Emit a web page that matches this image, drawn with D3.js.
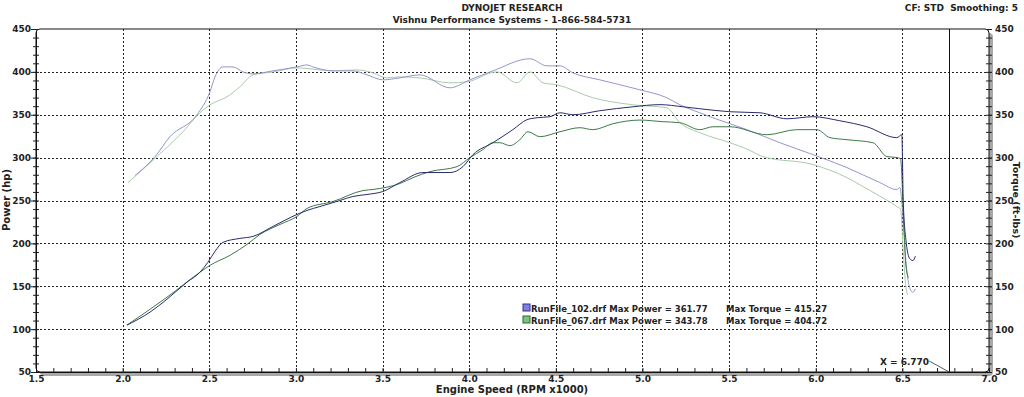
<!DOCTYPE html>
<meta charset="utf-8">
<script src="https://d3js.org/d3.v7.min.js"></script>
<style>
  body { margin: 0; background: #fff; }
  text { font-family: "DejaVu Sans", Verdana, sans-serif; font-weight: bold; fill: #222; }
</style>
<div id="chart"></div>
<script>
// run 102 (blue) : rpm x1000 / value
const rpm102Power = [2.025, 2.158, 2.256, 2.371, 2.446, 2.492, 2.533, 2.579, 2.677, 2.752, 2.868, 3.006, 3.064, 3.139, 3.254, 3.329, 3.41, 3.502, 3.6, 3.733, 3.889, 3.964, 4.022, 4.137, 4.252, 4.333, 4.391, 4.466, 4.524, 4.599, 4.754, 4.945, 5.101, 5.233, 5.331, 5.505, 5.678, 5.834, 5.984, 6.139, 6.295, 6.468, 6.497, 6.505, 6.52, 6.543, 6.561, 6.575];
const power102    = [104.7, 119.8, 134.9, 154.7, 166.3, 177.9, 190.7, 201.2, 205.8, 208.1, 219.8, 233.7, 238.4, 243, 250, 254.7, 257, 260.5, 270.9, 282.6, 282.6, 289.5, 303.5, 317.4, 332.6, 344.2, 346.5, 347.7, 352.3, 350, 354.7, 359.3, 361.8, 359.3, 357, 353.5, 352.3, 345.3, 347.7, 343, 336, 323.3, 326.7, 250, 205, 182, 180, 185];
const rpm102Torque = [2.071, 2.187, 2.273, 2.429, 2.504, 2.533, 2.579, 2.637, 2.694, 2.752, 2.868, 3.006, 3.064, 3.098, 3.214, 3.329, 3.41, 3.502, 3.6, 3.716, 3.889, 4.004, 4.137, 4.351, 4.449, 4.524, 4.599, 4.754, 4.985, 5.141, 5.216, 5.331, 5.406, 5.603, 5.793, 5.984, 6.18, 6.37, 6.468, 6.486, 6.5, 6.52, 6.54, 6.56, 6.575];
const torque102    = [279.1, 301.2, 324.4, 350, 376.7, 394.2, 405.8, 405.8, 400, 397.7, 401.2, 405.8, 408.1, 405.8, 401.2, 401.2, 396.5, 390.7, 393, 396.5, 381.4, 390.7, 401.2, 415.3, 407, 407, 398.8, 390.7, 379.1, 369.8, 361.6, 352.3, 346.5, 332.6, 317.4, 303.5, 288.4, 270.9, 262.8, 265.1, 240, 180, 150, 143, 147];

// run 067 (green)
const rpm067Power = [2.025, 2.256, 2.446, 2.504, 2.619, 2.718, 2.793, 2.908, 3.006, 3.064, 3.214, 3.387, 3.45, 3.6, 3.676, 3.774, 3.93, 4.004, 4.079, 4.137, 4.177, 4.235, 4.293, 4.339, 4.408, 4.524, 4.639, 4.714, 4.829, 4.985, 5.118, 5.216, 5.331, 5.406, 5.505, 5.718, 5.891, 6.007, 6.082, 6.18, 6.33, 6.411, 6.474, 6.49, 6.505, 6.52, 6.535];
const power067    = [104.7, 137.2, 166.3, 174.4, 186, 198.8, 210.5, 222.1, 231.4, 240.7, 248.8, 261.6, 263, 269.8, 276.7, 283.7, 289.5, 300, 309.3, 317.4, 317.4, 314, 321, 330.2, 324.4, 330.2, 334.9, 332.6, 339.5, 343.8, 341.9, 340.7, 332.6, 336, 336, 326.7, 332.6, 332.6, 323.3, 320.9, 317.4, 301.2, 300, 298, 240, 175, 160];
const rpm067Torque = [2.031, 2.198, 2.348, 2.446, 2.504, 2.602, 2.677, 2.752, 2.868, 3.006, 3.214, 3.352, 3.445, 3.525, 3.6, 3.716, 3.889, 3.987, 4.16, 4.276, 4.351, 4.426, 4.506, 4.714, 4.945, 5.141, 5.216, 5.331, 5.505, 5.603, 5.695, 5.984, 6.18, 6.272, 6.468, 6.49, 6.505, 6.52, 6.53];
const torque067    = [270.9, 301.2, 330.2, 352.3, 361.6, 370.9, 382.6, 396.5, 399.9, 404.7, 401.2, 402.3, 398.8, 393, 394.2, 393, 387.2, 388.4, 400, 387.2, 399.9, 387.2, 384.9, 369.8, 361.6, 358.1, 340.7, 329.1, 317.4, 310, 301.2, 291.9, 276.7, 266.3, 243, 240, 190, 150, 140];

const xMajor = [1.5, 2.0, 2.5, 3.0, 3.5, 4.0, 4.5, 5.0, 5.5, 6.0, 6.5, 7.0];
const yMajor = [50, 100, 150, 200, 250, 300, 350, 400, 450];
const runFiles = ["RunFile_102.drf", "RunFile_067.drf"];
const maxPower = ["361.77", "343.78"];
const maxTorque = ["415.27", "404.72"];
const cursorX = 6.77;

const W = 1024, H = 397;
const pL = 36, pR = 989, pT = 29, pB = 372;

const svg = d3.select("#chart").append("svg")
  .attr("width", W).attr("height", H);

const x = d3.scaleLinear().domain([1.5, 7.0]).range([pL, pR]);
const y = d3.scaleLinear().domain([50, 450]).range([pB, pT]);

// frame with shadow
svg.append("rect")
  .attr("x", pL + 4).attr("y", pT + 4)
  .attr("width", pR - pL).attr("height", pB - pT)
  .attr("rx", 4).attr("fill", "#a8a8a8");
svg.append("rect")
  .attr("x", pL).attr("y", pT)
  .attr("width", pR - pL).attr("height", pB - pT)
  .attr("rx", 4).attr("fill", "#fff").attr("stroke", "#111").attr("stroke-width", 1);

// dotted grid
const grid = svg.append("g").attr("stroke", "#222").attr("stroke-dasharray", "2,2");
grid.selectAll("line.v")
  .data(xMajor.filter(d => d > 1.5 && d < 7.0))
  .join("line").attr("class", "v")
  .attr("x1", d => Math.round(x(d)) + 0.5).attr("x2", d => Math.round(x(d)) + 0.5)
  .attr("y1", pT).attr("y2", pB);
grid.selectAll("line.h")
  .data(yMajor.filter(d => d > 50 && d < 450))
  .join("line").attr("class", "h")
  .attr("y1", d => Math.round(y(d)) + 0.5).attr("y2", d => Math.round(y(d)) + 0.5)
  .attr("x1", pL).attr("x2", pR);

// axes
const xMinor = d3.range(15, 71).map(d => d / 10);
const yMinor = d3.range(50, 451, 10);

svg.append("g").attr("transform", `translate(0,${pB})`)
  .call(d3.axisTop(x).tickValues(xMinor).tickSize(4).tickFormat(""));
const xLab = svg.append("g").attr("transform", `translate(0,${pB + 2})`)
  .call(d3.axisBottom(x).tickValues(xMajor).tickSize(0).tickFormat(d3.format(".1f")));

svg.append("g").attr("transform", `translate(${pL},0)`)
  .call(d3.axisLeft(y).tickValues(yMinor).tickSize(3).tickFormat(""));
svg.append("g").attr("transform", `translate(${pL},0)`)
  .call(d3.axisRight(y).tickValues(yMinor).tickSize(3).tickFormat(""));
svg.append("g").attr("transform", `translate(${pL},0)`)
  .call(d3.axisLeft(y).tickValues(yMajor).tickSize(5).tickPadding(0));

svg.append("g").attr("transform", `translate(${pR},0)`)
  .call(d3.axisRight(y).tickValues(yMinor).tickSize(3).tickFormat(""));
svg.append("g").attr("transform", `translate(${pR},0)`)
  .call(d3.axisLeft(y).tickValues(yMinor).tickSize(3).tickFormat(""));
svg.append("g").attr("transform", `translate(${pR},0)`)
  .call(d3.axisRight(y).tickValues(yMajor).tickSize(3).tickPadding(3));

svg.selectAll(".domain").remove();
svg.selectAll(".tick line").attr("stroke", "#222");
svg.selectAll(".tick text").style("font-size", "9px").attr("fill", "#222")
  .style("font-family", '"DejaVu Sans", Verdana, sans-serif').style("font-weight", "bold");
xLab.selectAll(".tick text").attr("dy", "0.6em");

// axis lines
svg.append("line").attr("x1", pL + 0.5).attr("x2", pL + 0.5).attr("y1", pT + 3).attr("y2", pB).attr("stroke", "#111");
svg.append("line").attr("x1", pL).attr("x2", pR).attr("y1", pB + 0.5).attr("y2", pB + 0.5).attr("stroke", "#111");

// cursor line
svg.append("line")
  .attr("x1", Math.round(x(cursorX)) + 0.5).attr("x2", Math.round(x(cursorX)) + 0.5)
  .attr("y1", pT).attr("y2", pB).attr("stroke", "#111");
svg.append("line")
  .attr("x1", x(cursorX) - 20).attr("y1", pB - 11)
  .attr("x2", x(cursorX)).attr("y2", pB)
  .attr("stroke", "#333").attr("stroke-width", 0.8);
svg.append("text").attr("x", x(cursorX) - 20).attr("y", pB - 7)
  .attr("text-anchor", "end").style("font-size", "9px").text(`X = ${cursorX.toFixed(3)}`);

// curves
const line = d3.line().x(d => x(d[0])).y(d => y(d[1])).curve(d3.curveMonotoneX);
const series = [
  {r: rpm067Torque, v: torque067, c: "#a9cca9"},
  {r: rpm102Torque, v: torque102, c: "#9696cc"},
  {r: rpm067Power, v: power067, c: "#3f7a46"},
  {r: rpm102Power, v: power102, c: "#2a2c6c"}
];
svg.append("g").selectAll("path")
  .data(series)
  .join("path")
  .attr("d", s => line(d3.zip(s.r, s.v)))
  .attr("fill", "none")
  .attr("stroke", s => s.c)
  .attr("stroke-width", 1);

// legend
const lg = svg.append("g").attr("transform", "translate(523,304)");
const legendColors = [["#3030a0", "#8080d8"], ["#2a6a2a", "#80c080"]];
runFiles.forEach((f, i) => {
  lg.append("rect").attr("x", 0).attr("y", i * 12).attr("width", 7).attr("height", 7)
    .attr("fill", legendColors[i][1]).attr("stroke", legendColors[i][0]);
  lg.append("text").attr("x", 8).attr("y", i * 12 + 7.5)
    .style("font-size", "8.5px").text(`${f} Max Power = ${maxPower[i]}`);
  lg.append("text").attr("x", 203).attr("y", i * 12 + 7.5)
    .style("font-size", "8.5px").text(`Max Torque = ${maxTorque[i]}`);
});

// titles
svg.append("text").attr("x", 512).attr("y", 11).attr("text-anchor", "middle")
  .style("font-size", "9px").text("DYNOJET RESEARCH");
svg.append("text").attr("x", 512).attr("y", 23).attr("text-anchor", "middle")
  .style("font-size", "9px").text("Vishnu Performance Systems - 1-866-584-5731");
svg.append("text").attr("x", 1018).attr("y", 11).attr("text-anchor", "end")
  .style("font-size", "9px").style("white-space", "pre").text("CF: STD  Smoothing: 5");
svg.append("text").attr("x", 512).attr("y", 393).attr("text-anchor", "middle")
  .style("font-size", "10px").text("Engine Speed (RPM x1000)");
svg.append("text").attr("transform", "translate(10,200) rotate(-90)").attr("text-anchor", "middle")
  .style("font-size", "10px").text("Power (hp)");
svg.append("text").attr("transform", "translate(1013,200) rotate(90)").attr("text-anchor", "middle")
  .style("font-size", "9.5px").text("Torque (ft-lbs)");
</script>
